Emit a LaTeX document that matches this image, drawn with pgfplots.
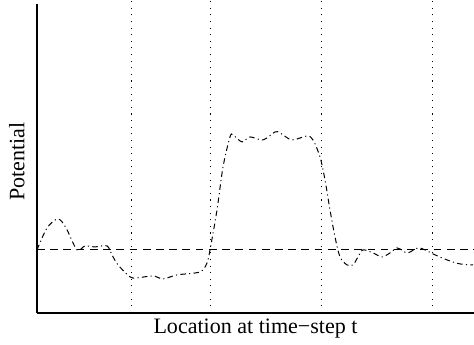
\documentclass[border=0pt]{standalone}
\usepackage{fontspec}
\setmainfont{Liberation Serif}
\usepackage{pgfplots}
\pgfplotsset{compat=1.18}
\begin{document}
\begin{tikzpicture}
\begin{axis}[
  scale only axis,
  width=198.3pt, height=140.2pt,
  xmin=37, xmax=474, ymin=0, ymax=309,
  axis x line=bottom, axis y line=left,
  axis line style={-, line width=0.6pt},
  xtick=\empty, ytick=\empty,
  xlabel={Location at time\textminus step t},
  ylabel={Potential},
  xlabel style={yshift=3pt},
  ylabel style={at={(ticklabel cs:0.49)}},
  clip=false,
]
\addplot[black, line width=0.4pt, dash pattern=on 0.5pt off 2.5pt] coordinates {(131,0) (131,313)};
\addplot[black, line width=0.4pt, dash pattern=on 0.5pt off 2.5pt] coordinates {(210,0) (210,313)};
\addplot[black, line width=0.4pt, dash pattern=on 0.5pt off 2.5pt] coordinates {(321,0) (321,313)};
\addplot[black, line width=0.4pt, dash pattern=on 0.5pt off 2.5pt] coordinates {(432,0) (432,313)};
\addplot[black, line width=0.45pt, dash pattern=on 3.5pt off 2.5pt] coordinates {(37,63) (474,63)};
\addplot[black, line width=0.45pt, smooth, tension=0.5, dash pattern=on 2.5pt off 1.5pt on 0.5pt off 1.5pt] coordinates {
(37,63) (47,85) (58,94) (66,85) (77,63) (85,67) (95,66) (107,67) (112,58) (118,48)
(130,36) (137,35) (153,37) (163,34) (177,38) (200,41) (207,50) (210,63) (217,103)
(223,146) (230,176) (233,178) (242,171) (250,176) (263,173) (275,181) (280,180)
(292,173) (307,177) (313,173) (320,156) (325,133) (330,103) (335,76) (340,56)
(347,48) (353,48) (358,56) (363,63) (373,60) (382,56) (390,60) (397,65) (403,62)
(408,60) (418,65) (425,63) (433,59) (447,53) (460,49) (473,48)
};
\end{axis}
\pgfresetboundingbox
\path ([xshift=-16.8pt,yshift=-14.5pt]current axis.south west) rectangle ([yshift=1.8pt]current axis.north east);
\end{tikzpicture}
\end{document}
